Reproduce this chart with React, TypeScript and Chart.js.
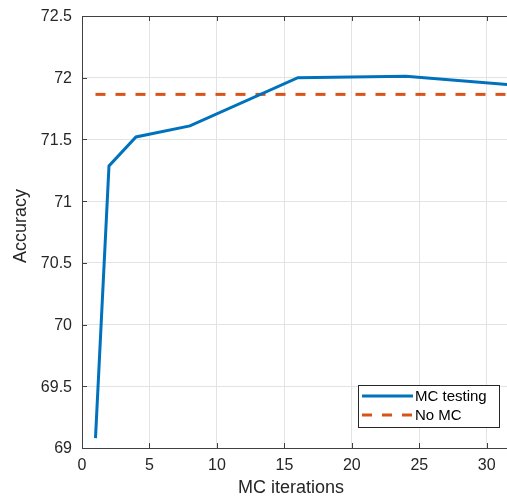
import React, { useEffect, useRef } from "react";
import { Chart, registerables } from "chart.js";

Chart.register(...registerables);

const mcIterations = [1, 2, 4, 8, 16, 24, 32];
const mcAccuracy = [69.08, 71.285, 71.52, 71.61, 72.0, 72.012, 71.94];
const noMcX = [1, 32];
const noMcY = [71.865, 71.865];
const seriesLabels = ["MC testing", "No MC"];
const xTickValues = [0, 5, 10, 15, 20, 25, 30];
const yTickValues = [69, 69.5, 70, 70.5, 71, 71.5, 72, 72.5];
const xLabel = "MC iterations";
const yLabel = "Accuracy";

const FONT = "'Liberation Sans', Arial, Helvetica, sans-serif";
const AXIS_COLOR = "#404040";
const TEXT_COLOR = "#262626";

const fmt = (v: any) => String(Math.round(Number(v) * 100) / 100);

const boxPlugin = {
  id: "matlabBox",
  afterDatasetsDraw(chart: any) {
    const { ctx, chartArea, scales } = chart;
    const xs = scales.x;
    const ys = scales.y;
    ctx.save();
    ctx.strokeStyle = AXIS_COLOR;
    ctx.lineWidth = 1;
    ctx.beginPath();
    ctx.moveTo(chartArea.left, chartArea.top + 0.5);
    ctx.lineTo(chartArea.right, chartArea.top + 0.5);
    ctx.stroke();
    const tl = 5;
    ctx.beginPath();
    xs.ticks.forEach((t: any) => {
      const px = Math.round(xs.getPixelForValue(t.value)) + 0.5;
      ctx.moveTo(px, chartArea.bottom);
      ctx.lineTo(px, chartArea.bottom - tl);
      ctx.moveTo(px, chartArea.top);
      ctx.lineTo(px, chartArea.top + tl);
    });
    ys.ticks.forEach((t: any) => {
      const py = Math.round(ys.getPixelForValue(t.value)) + 0.5;
      ctx.moveTo(chartArea.left, py);
      ctx.lineTo(chartArea.left + tl, py);
    });
    ctx.stroke();
    ctx.restore();
  },
};

const titlesPlugin = {
  id: "matlabTitles",
  afterDraw(chart: any) {
    const { ctx } = chart;
    ctx.save();
    ctx.fillStyle = TEXT_COLOR;
    ctx.font = `18px ${FONT}`;
    ctx.textAlign = "center";
    ctx.textBaseline = "middle";
    ctx.fillText(xLabel, 291, 488);
    ctx.translate(21, 226);
    ctx.rotate(-Math.PI / 2);
    ctx.fillText(yLabel, 0, 0);
    ctx.restore();
  },
};

const legendPlugin = {
  id: "matlabLegend",
  afterDraw(chart: any) {
    const { ctx } = chart;
    const bx = 358.5, by = 385.5, bw = 141, bh = 42;
    ctx.save();
    ctx.fillStyle = "#ffffff";
    ctx.fillRect(bx, by, bw, bh);
    ctx.strokeStyle = TEXT_COLOR;
    ctx.lineWidth = 1;
    ctx.strokeRect(bx, by, bw, bh);
    const rows = [396, 415];
    chart.data.datasets.forEach((ds: any, i: number) => {
      const y = rows[i];
      ctx.strokeStyle = ds.borderColor;
      ctx.lineWidth = ds.borderWidth;
      ctx.setLineDash(ds.borderDash || []);
      ctx.beginPath();
      ctx.moveTo(362, y);
      ctx.lineTo(413, y);
      ctx.stroke();
      ctx.setLineDash([]);
      ctx.fillStyle = "#000000";
      ctx.font = `15px ${FONT}`;
      ctx.textBaseline = "middle";
      ctx.textAlign = "left";
      ctx.fillText(ds.label, 415, y + 1);
    });
    ctx.restore();
  },
};

export default function App() {
  const ref = useRef<HTMLCanvasElement | null>(null);
  useEffect(() => {
    if (!ref.current) return;
    const chart = new Chart(ref.current, {
      type: "line",
      data: {
        datasets: [
          {
            label: seriesLabels[0],
            data: mcIterations.map((x, i) => ({ x, y: mcAccuracy[i] })),
            borderColor: "#0072BD",
            backgroundColor: "#0072BD",
            borderWidth: 3,
            pointRadius: 0,
            tension: 0,
            fill: false,
          },
          {
            label: seriesLabels[1],
            data: noMcX.map((x, i) => ({ x, y: noMcY[i] })),
            borderColor: "#D95319",
            backgroundColor: "#D95319",
            borderWidth: 3,
            borderDash: [10, 10],
            pointRadius: 0,
            tension: 0,
            fill: false,
          },
        ],
      },
      options: {
        responsive: false,
        animation: false,
        layout: { padding: { left: 0, right: 0, top: 16, bottom: 0 } },
        plugins: { legend: { display: false }, tooltip: { enabled: false } },
        scales: {
          x: {
            type: "linear",
            min: 0,
            max: 31.5,
            afterFit: (s: any) => {
              s.height = 50;
              s.paddingLeft = 0;
              s.paddingRight = 0;
            },
            afterBuildTicks: (s: any) => {
              s.ticks = xTickValues.map((v) => ({ value: v }));
            },
            ticks: {
              padding: 8,
              autoSkip: false,
              color: TEXT_COLOR,
              font: { family: FONT, size: 16 },
              maxRotation: 0,
              callback: (v: any) => fmt(v),
            },
            grid: { color: "#e3e3e3", drawTicks: false },
            border: { display: true, color: AXIS_COLOR, width: 1 },
            title: { display: false },
          },
          y: {
            type: "linear",
            min: 69,
            max: 72.5,
            afterFit: (s: any) => {
              s.width = 82;
              s.paddingTop = 0;
              s.paddingBottom = 0;
            },
            afterBuildTicks: (s: any) => {
              s.ticks = yTickValues.map((v) => ({ value: v }));
            },
            ticks: {
              padding: 10,
              autoSkip: false,
              labelOffset: 1,
              color: TEXT_COLOR,
              font: { family: FONT, size: 16 },
              callback: (v: any) => fmt(v),
            },
            grid: { color: "#e3e3e3", drawTicks: false },
            border: { display: true, color: AXIS_COLOR, width: 1 },
            title: { display: false },
          },
        },
      },
      plugins: [boxPlugin, titlesPlugin, legendPlugin],
    });
    return () => chart.destroy();
  }, []);
  return (
    <div style={{ position: "absolute", left: 0, top: 0, width: 507, height: 498, background: "#fff" }}>
      <canvas ref={ref} width={507} height={498} />
    </div>
  );
}
